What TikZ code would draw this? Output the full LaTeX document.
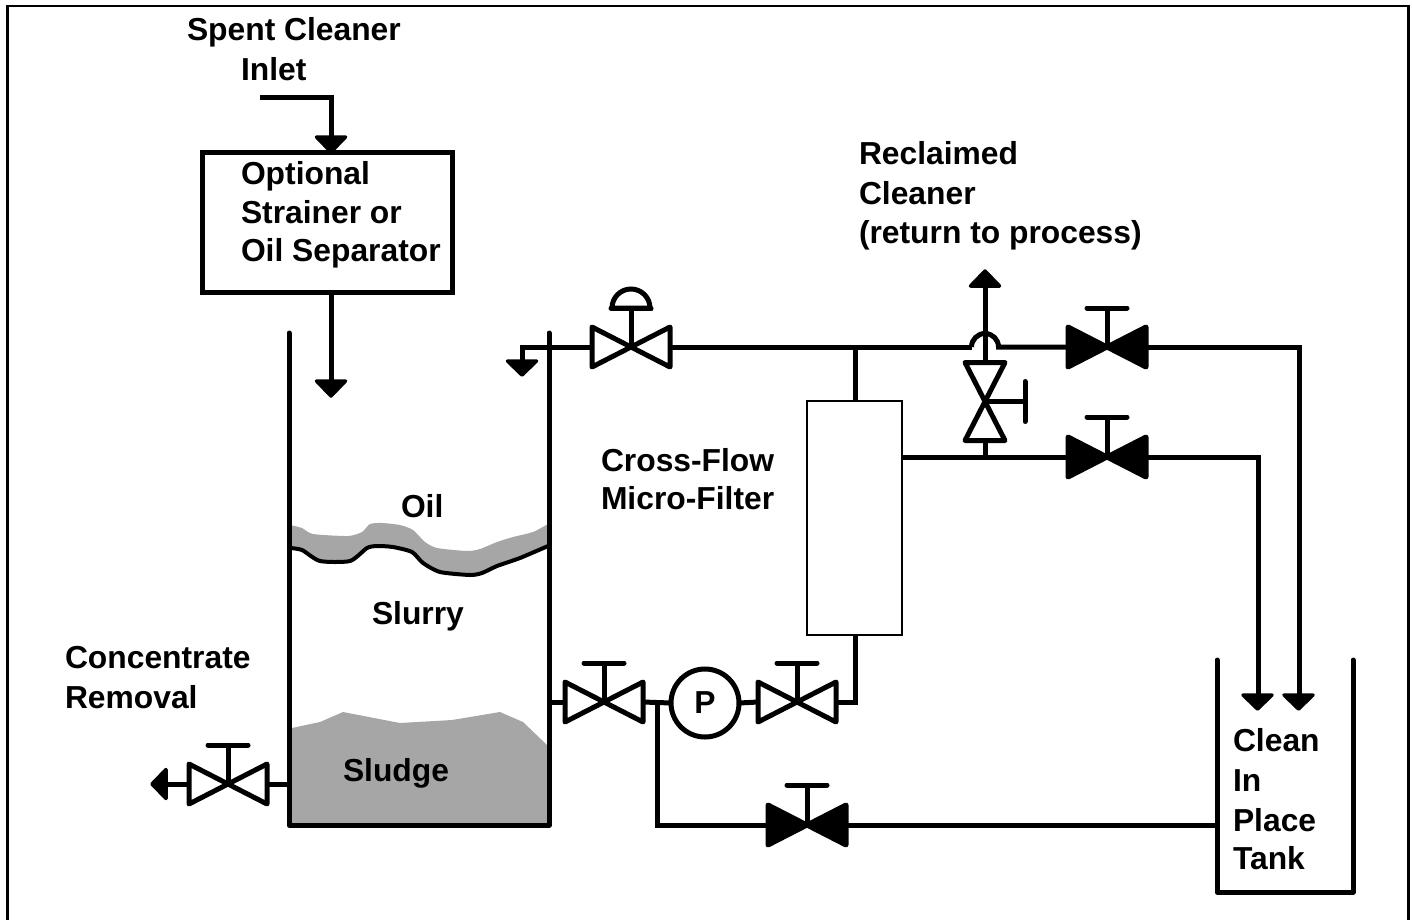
\documentclass[tikz,border=0pt]{standalone}
\usepackage{fontspec}
\setmainfont{Liberation Sans}
\newcommand{\hvalve}[5]{% name, x, y, fill, T-bar y
  \node[vbody] (#1) at (#2,#3) {};
  \coordinate (#1-top) at (#2,#5);
  \fill[white] (#1.north west) -- (#1.south east) -- (#1.north east) -- (#1.south west) -- cycle;
  \draw[pipe,line join=round,fill=#4] (#1.north west) -- (#1.south east) -- (#1.north east) -- (#1.south west) -- cycle;
  \draw[pipe] (#1.center) -- (#1-top);
  \draw[pipe,line cap=round] ([xshift=-20]#1-top) -- ([xshift=20]#1-top);
}
\begin{document}
\begin{tikzpicture}[x=1pt,y=-1pt,
  pipe/.style={line width=5pt,black},
  vbody/.style={inner sep=0pt,outer sep=0pt,minimum width=78pt,minimum height=40pt},
  tip/.style={fill=black,draw=black,line width=3.5pt,line join=round},
  lbl/.style={anchor=base west,inner sep=0pt,outer sep=0pt,font=\fontsize{31.8}{38}\selectfont\bfseries},
  gooA/.style={fill=black!35,draw=none}]
\useasboundingbox (0,0) rectangle (1412,919);
\draw[line width=2.6pt] (7.5,925) -- (7.5,6) -- (1408.5,6) -- (1408.5,925);

% liquid regions
\fill[gooA] (292,728) -- (320,722) -- (343,712) -- (400,723) -- (452,720) -- (500,712) -- (523,722) -- (547,745) -- (547,825) -- (291,825) -- cycle;
\fill[gooA] plot[smooth,tension=0.4] coordinates {(290,525) (302,528) (313,534) (348,536) (362,532) (370,524) (382,523) (400,525) (413,530) (425,542) (437,548) (467,551) (480,549) (497,542) (513,537) (533,532) (548,524)}
  -- plot[smooth,tension=0.4] coordinates {(548,546) (520,558) (497,566) (482,573) (470,575) (440,572) (423,563) (412,552) (393,547) (377,546) (367,548) (350,561) (320,561) (302,550) (290,548)} -- cycle;
\draw[line width=4pt,line join=round] plot[smooth,tension=0.4] coordinates {(290,548) (302,550) (320,561) (350,561) (367,548) (377,546) (393,547) (412,552) (423,563) (440,572) (470,575) (482,573) (497,566) (520,558) (548,546)};

% vessels
\draw[pipe,line cap=round,line join=round] (289,333) -- (289,825) -- (549,825) -- (549,333);
\draw[pipe,line cap=round,line join=round] (1217,660) -- (1217,892) -- (1353,892) -- (1353,660);

% strainer
\node[draw,line width=5pt,minimum width=250pt,minimum height=139.5pt,inner sep=0pt,outer sep=0pt] (box) at (327,222.7) {};
% filter
\node[draw,line width=2.4pt,minimum width=95pt,minimum height=234pt,inner sep=0pt,outer sep=0pt] (filter) at (854.5,518) {};
% pump
\node[circle,draw,line width=5pt,minimum size=68pt,inner sep=0pt,outer sep=0pt,font=\fontsize{31.8}{38}\selectfont\bfseries] (pump) at (705,703) {P};

% valves
\hvalve{vctl}{631}{347}{white}{308}
\hvalve{vtop}{1107}{347}{black}{308}
\hvalve{vmid}{1107}{457}{black}{417}
\hvalve{vret}{807}{825}{black}{785}
\hvalve{vsuc}{604}{702}{white}{663}
\hvalve{vdis}{797}{702}{white}{663}
\hvalve{vcon}{228}{784}{white}{745}

% dome on control valve
\coordinate (dl) at (612,308);
\coordinate (dr) at (650,308);
\draw[pipe,line cap=round] (dl) -- (dr) arc[start angle=0,end angle=-180,radius=19];

% valve on the branch line, vertical
\node[inner sep=0pt,outer sep=0pt,minimum width=40pt,minimum height=78pt] (vvert) at (985,401.5) {};
\fill[white] (vvert.north west) -- (vvert.north east) -- (vvert.south west) -- (vvert.south east) -- cycle;
\draw[pipe,line join=round] (vvert.north west) -- (vvert.north east) -- (vvert.south west) -- (vvert.south east) -- cycle;
\coordinate (vvstem) at (1025,401.5);
\draw[pipe] (vvert.center) -- (vvstem);
\draw[pipe,line cap=round] ([yshift=-20]vvstem) -- ([yshift=20]vvstem);

% junctions and free ends
\coordinate (inA) at (260,97);
\coordinate (inB) at (331,97);
\coordinate (inC) at (331,136);
\coordinate (boxout) at (331,292);
\coordinate (boxend) at (331,381);
\coordinate (hopL) at (971.5,347);
\coordinate (hopR) at (998.5,347);
\coordinate (upEnd) at (985,287);
\coordinate (drainA) at (522,347);
\coordinate (drainB) at (522,361);
\coordinate (ftop) at (855,347);
\coordinate (fbot) at (855,702);
\coordinate (fmid) at (985,457);
\coordinate (topR) at (1299,347);
\coordinate (topD) at (1299,694);
\coordinate (midR) at (1258,457);
\coordinate (midD) at (1258,694);
\coordinate (retL) at (657,825);
\coordinate (retU) at (657,702);
\coordinate (conT) at (167,784);

% pipes
\draw[pipe] (inA) -- (inB) -- (inC);
\draw[pipe] (boxout) -- (boxend);
\draw[pipe] (vctl.west) -- (drainA) -- (drainB);
\draw[pipe] (vctl.east) -- (hopL);
\draw[pipe] (hopL) arc[start angle=180,end angle=360,radius=13.5] -- (vtop.west);
\draw[pipe] (vvert.north) -- (upEnd);
\draw[pipe] (vvert.south) -- (fmid);
\draw[pipe] (ftop) -- (filter.north -| ftop);
\draw[pipe] (filter.south -| fbot) -- (fbot) -- (vdis.east);
\draw[pipe] (filter.east |- vmid) -- (vmid.west);
\draw[pipe] (vtop.east) -- (topR) -- (topD);
\draw[pipe] (vmid.east) -- (midR) -- (midD);
\draw[pipe] (vret.east) -- (1217,825);
\draw[pipe] (vret.west) -- (retL) -- (retU);
\draw[pipe] (549,702) -- (vsuc.west);
\draw[pipe] (vsuc.east) -- (pump.west);
\draw[pipe] (pump.east) -- (vdis.west);
\draw[pipe] (vcon.east) -- (289,784);
\draw[pipe] (vcon.west) -- (conT);

% arrowheads
\draw[tip] (316.5,137) -- (345.5,137) -- (331,152) -- cycle;
\draw[tip] (316.5,381) -- (345.5,381) -- (331,396) -- cycle;
\draw[tip] (507.5,361) -- (536.5,361) -- (522,375) -- cycle;
\draw[tip] (970.5,286) -- (999.5,286) -- (985,271) -- cycle;
\draw[tip] (1243,695) -- (1272,695) -- (1257.5,709) -- cycle;
\draw[tip] (1284,695) -- (1313,695) -- (1298.5,709) -- cycle;
\draw[tip] (166,769.5) -- (166,798.5) -- (152,784) -- cycle;

% labels
\node[lbl] (t1) at (187,40) {Spent Cleaner};
\node[lbl] (t2) at (241,80) {Inlet};
\node[lbl] (t3) at (241,184) {Optional};
\node[lbl] (t4) at (241,223) {Strainer or};
\node[lbl] (t5) at (241,261) {Oil Separator};
\node[lbl] (t6) at (859,164) {Reclaimed};
\node[lbl] (t7) at (859,204) {Cleaner};
\node[lbl] (t8) at (859,243) {(return to process)};
\node[lbl] (t9) at (401,517) {Oil};
\node[lbl] (t10) at (372,624) {Slurry};
\node[lbl] (t11) at (343,781) {Sludge};
\node[lbl] (t12) at (601,471) {Cross-Flow};
\node[lbl] (t13) at (601,509) {Micro-Filter};
\node[lbl] (t14) at (65,668) {Concentrate};
\node[lbl] (t15) at (65,708) {Removal};
\node[lbl] (t16) at (1233,751) {Clean};
\node[lbl] (t17) at (1233,791) {In};
\node[lbl] (t18) at (1233,831) {Place};
\node[lbl] (t19) at (1233,869) {Tank};
\end{tikzpicture}
\end{document}
